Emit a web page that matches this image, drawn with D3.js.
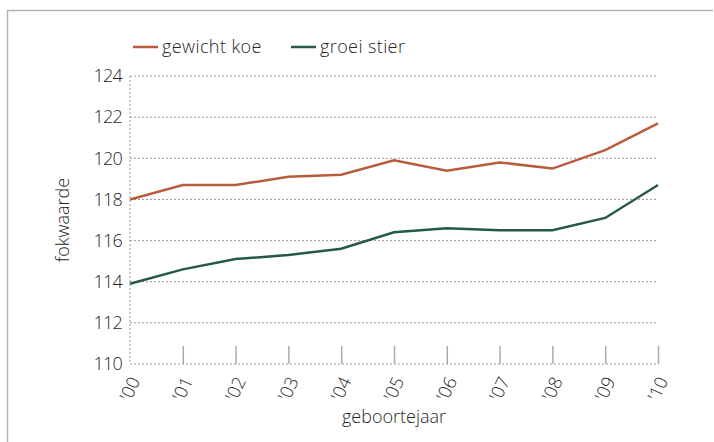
<!DOCTYPE html>
<html>
<head>
<meta charset="utf-8">
<script src="https://cdn.jsdelivr.net/npm/d3@7"></script>
<style>
  body { margin: 0; background: #fff; }
  text { font-family: "Open Sans", Lato, sans-serif; font-weight: 300; fill: #262626; }
</style>
</head>
<body>
<div id="chart"></div>
<script>
const years = ["'00", "'01", "'02", "'03", "'04", "'05", "'06", "'07", "'08", "'09", "'10"];
const gewichtKoe = [118.0, 118.7, 118.7, 119.1, 119.2, 119.9, 119.4, 119.8, 119.5, 120.4, 121.7];
const groeiStier = [113.9, 114.6, 115.1, 115.3, 115.6, 116.4, 116.6, 116.5, 116.5, 117.1, 118.7];
const yTicks = [110, 112, 114, 116, 118, 120, 122, 124];
const seriesNames = ['gewicht koe', 'groei stier'];
const seriesColors = ['#b85c3e', '#255a45'];

const width = 714, height = 442;
const margin = { top: 76, right: 56, bottom: 78, left: 130 };
const innerWidth = width - margin.left - margin.right;
const innerHeight = height - margin.top - margin.bottom;

const svg = d3.select('#chart')
  .append('svg')
  .attr('width', width)
  .attr('height', height);

// outer frame (top and left edges)
svg.append('path')
  .attr('d', `M7.5,${height} V10.5 H713`)
  .attr('fill', 'none')
  .attr('stroke', '#b5b5b5')
  .attr('stroke-width', 1.5);

const g = svg.append('g')
  .attr('transform', `translate(${margin.left},${margin.top})`);

const x = d3.scalePoint()
  .domain(years)
  .range([0, innerWidth]);

const y = d3.scaleLinear()
  .domain([110, 124])
  .range([innerHeight, 0]);

// dotted grid
g.selectAll('.grid')
  .data(yTicks)
  .enter()
  .append('line')
  .attr('x1', 0)
  .attr('x2', innerWidth)
  .attr('y1', d => y(d))
  .attr('y2', d => y(d))
  .attr('stroke', '#9a9a9a')
  .attr('stroke-width', 1)
  .attr('stroke-dasharray', '2,2');

g.append('line')
  .attr('x1', 0).attr('x2', 0)
  .attr('y1', 0).attr('y2', innerHeight)
  .attr('stroke', '#9a9a9a')
  .attr('stroke-dasharray', '2,2');

// y axis labels
const yAxis = g.append('g')
  .call(d3.axisLeft(y).tickValues(yTicks).tickSize(0).tickPadding(8));
yAxis.select('.domain').remove();
yAxis.selectAll('text')
  .attr('font-size', 18)
  .attr('font-family', '"Open Sans", sans-serif')
  .attr('font-weight', 300)
  .attr('fill', '#262626')
  .attr('letter-spacing', '-0.8px');

// x axis ticks pointing up
const xAxis = g.append('g')
  .attr('transform', `translate(0,${innerHeight})`)
  .call(d3.axisTop(x).tickSize(18).tickFormat(''));
xAxis.select('.domain').remove();
xAxis.selectAll('line').attr('stroke', '#aaaaaa').attr('stroke-width', 1.5);
xAxis.selectAll('.tick')
  .filter((d, i) => i === 0)
  .select('line').remove();

g.selectAll('.xlabel')
  .data(years)
  .enter()
  .append('text')
  .attr('transform', d => `translate(${x(d) + 5},${innerHeight + 14}) rotate(-65)`)
  .attr('text-anchor', 'end')
  .attr('dy', '0.35em')
  .attr('font-size', 18)
  .text(d => d);

// lines
const line = d3.line()
  .x((d, i) => x(years[i]))
  .y(d => y(d));

[gewichtKoe, groeiStier].forEach((values, i) => {
  g.append('path')
    .datum(values)
    .attr('fill', 'none')
    .attr('stroke', seriesColors[i])
    .attr('stroke-width', 2.5)
    .attr('d', line);
});

// axis titles
svg.append('text')
  .attr('transform', `translate(69,${margin.top + innerHeight / 2}) rotate(-90)`)
  .attr('text-anchor', 'middle')
  .attr('font-size', 18)
  .text('fokwaarde');

svg.append('text')
  .attr('x', margin.left + innerWidth / 2)
  .attr('y', 423)
  .attr('text-anchor', 'middle')
  .attr('font-size', 18)
  .text('geboortejaar');

// legend
const legendX = [133, 291];
const legend = svg.selectAll('.legend')
  .data(seriesNames)
  .enter()
  .append('g')
  .attr('transform', (d, i) => `translate(${legendX[i]},47)`);

legend.append('line')
  .attr('x1', 0).attr('x2', 25)
  .attr('stroke', (d, i) => seriesColors[i])
  .attr('stroke-width', 2.5);

legend.append('text')
  .attr('x', 29)
  .attr('dy', '0.35em')
  .attr('font-size', 18)
  .attr('letter-spacing', '0.4px')
  .text(d => d);
</script>
</body>
</html>
